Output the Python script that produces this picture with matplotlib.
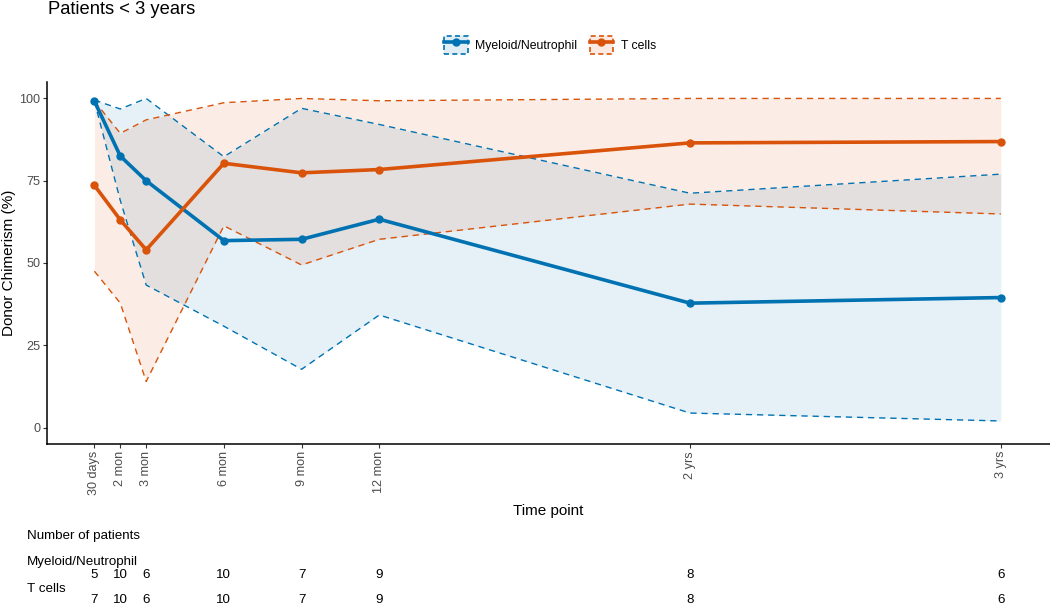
import matplotlib.pyplot as plt
from matplotlib.lines import Line2D
from matplotlib.patches import Patch
from matplotlib.colors import to_rgba
import matplotlib.transforms as mtransforms

plt.rcParams['font.family'] = ['Liberation Sans', 'DejaVu Sans']

# time points (months) and labels
months = [1, 2, 3, 6, 9, 12, 24, 36]
time_labels = ["30 days", "2 mon", "3 mon", "6 mon", "9 mon", "12 mon", "2 yrs", "3 yrs"]

# Myeloid / Neutrophil donor chimerism
myeloid_mean = [99.2, 82.5, 75.0, 56.8, 57.2, 63.3, 37.8, 39.5]
myeloid_lo = [99.2, 69.0, 43.3, 30.8, 17.7, 34.2, 4.4, 2.0]
myeloid_hi = [99.5, 96.8, 100.0, 82.3, 97.0, 92.1, 71.2, 77.0]

# T cells donor chimerism
tcell_mean = [73.6, 63.1, 54.0, 80.3, 77.4, 78.4, 86.5, 86.9]
tcell_lo = [47.5, 37.8, 14.0, 61.3, 49.4, 57.2, 67.9, 64.9]
tcell_hi = [99.2, 89.4, 93.5, 98.7, 100.0, 99.3, 100.0, 100.0]

# number of patients per time point
n_myeloid = [5, 10, 6, 10, 7, 9, 8, 6]
n_tcell = [7, 10, 6, 10, 7, 9, 8, 6]

BLUE = "#0072B2"
ORANGE = "#D9530A"
W, H = 1050, 605

fig = plt.figure(figsize=(W / 100, H / 100), dpi=100)
ax = fig.add_axes([47 / W, (H - 444) / H, (W - 47) / W, (444 - 82) / H])

series = [
    ("Myeloid/Neutrophil", myeloid_mean, myeloid_lo, myeloid_hi, BLUE),
    ("T cells", tcell_mean, tcell_lo, tcell_hi, ORANGE),
]

for name, mean, lo, hi, col in series:
    ax.fill_between(months, lo, hi, color=col, alpha=0.1, linewidth=0)
for name, mean, lo, hi, col in series:
    ax.plot(months, lo, color=col, lw=1.0, linestyle=(0, (4.5, 3.5)))
    ax.plot(months, hi, color=col, lw=1.0, linestyle=(0, (4.5, 3.5)))
for name, mean, lo, hi, col in series:
    ax.plot(months, mean, color=col, lw=2.6, marker="o", markersize=5)

ax.set_xlim(-0.83, 37.9)
ax.set_ylim(-5, 105)
ax.set_xticks(months)
ax.set_xticklabels(time_labels, rotation=90)
ax.set_yticks([0, 25, 50, 75, 100])
ax.tick_params(axis="both", labelsize=9.1, labelcolor="#4D4D4D", color="#333333",
               length=3, width=0.8, pad=2)
for s in ["top", "right"]:
    ax.spines[s].set_visible(False)
for s in ["left", "bottom"]:
    ax.spines[s].set_linewidth(1.1)

ax.set_ylabel("Donor Chimerism (%)", fontsize=11)
ax.yaxis.set_label_coords(-0.031, 0.5)
ax.set_xlabel("Time point", fontsize=11, labelpad=6)

fig.text(48 / W, 1 - 13.5 / H, "Patients < 3 years", fontsize=13.2, va="baseline", ha="left")

# legend: ribbon box with dashed border + line with point
handles = []
for name, mean, lo, hi, col in series:
    box = Patch(facecolor=to_rgba(col, 0.12), edgecolor=col, linestyle=(0, (3, 2)), linewidth=1.2)
    ln = Line2D([], [], color=col, lw=2.6, marker="o", markersize=5)
    handles.append((box, ln))
fig.legend(handles, [s[0] for s in series], loc="center", ncol=2,
           bbox_to_anchor=(550 / W, 1 - 45 / H), frameon=False, fontsize=8.8,
           handlelength=1.95, handleheight=1.95, columnspacing=1.0, handletextpad=0.6)

# number-of-patients table below the plot
fig.text(27 / W, 1 - 539 / H, "Number of patients", fontsize=9.6, va="baseline")
fig.text(27 / W, 1 - 565 / H, "Myeloid/Neutrophil", fontsize=9.6, va="baseline")
fig.text(27 / W, 1 - 592 / H, "T cells", fontsize=9.6, va="baseline")
trans = mtransforms.blended_transform_factory(ax.transData, fig.transFigure)
for m, a, b in zip(months, n_myeloid, n_tcell):
    fig.text(m, 1 - 578 / H, str(a), fontsize=9.6, ha="center", va="baseline", transform=trans)
    fig.text(m, 1 - 603 / H, str(b), fontsize=9.6, ha="center", va="baseline", transform=trans)

fig.savefig("out.png", dpi=100)
